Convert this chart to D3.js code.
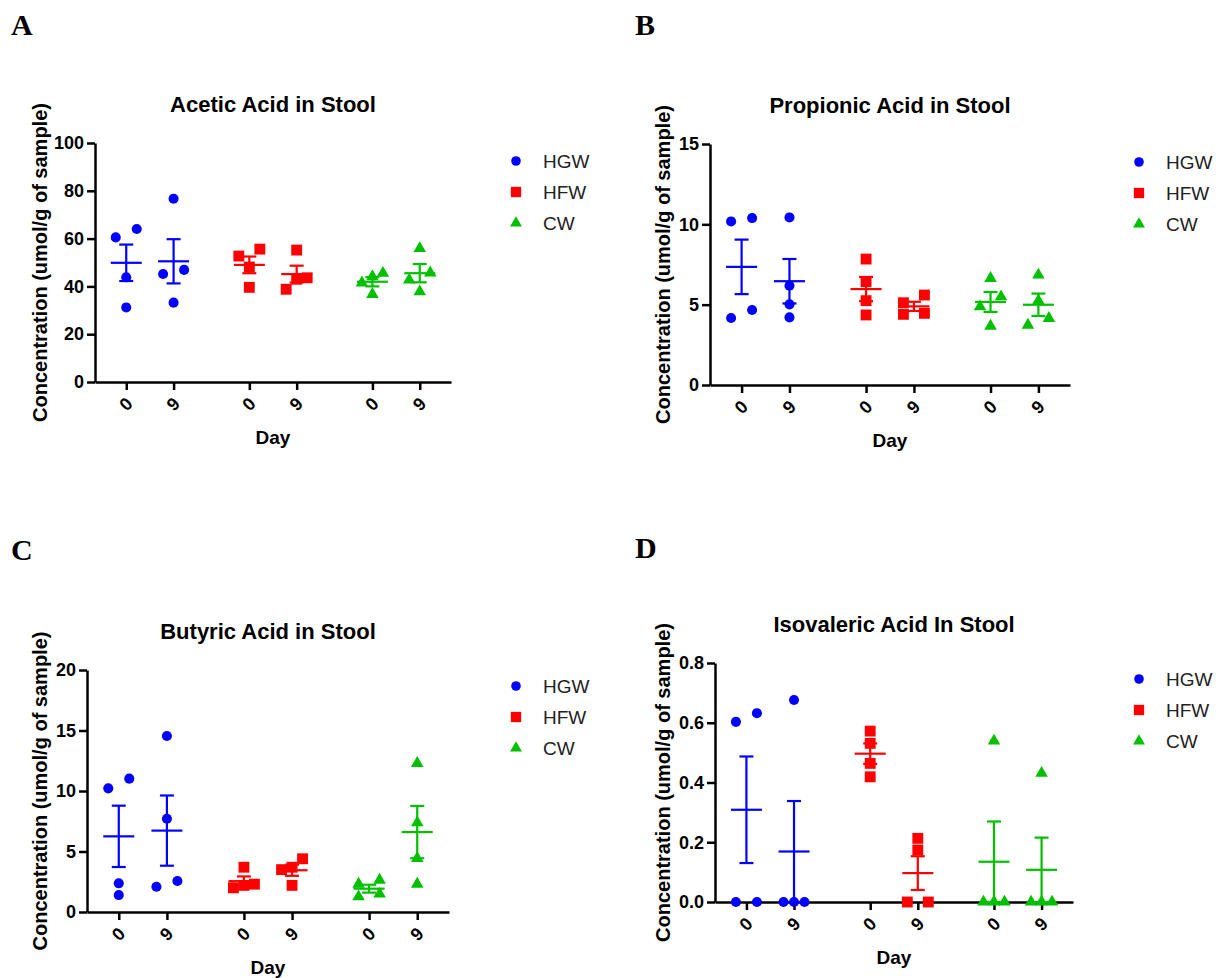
<!DOCTYPE html>
<html>
<head>
<meta charset="utf-8">
<script src="https://cdn.jsdelivr.net/npm/d3@7"></script>
<style>
  body { margin: 0; background: #fff; }
  text { font-family: "Liberation Sans", Arial, sans-serif; }
</style>
</head>
<body>
<script>
// groups and days
const groups = ["HGW", "HFW", "CW"];
const days = ["0", "9"];

// values (umol/g of sample), order: HGW d0, HGW d9, HFW d0, HFW d9, CW d0, CW d9
const acetic = [
  [60.5, 64.0, 43.8, 31.2], [76.7, 45.2, 46.9, 33.2],
  [52.7, 55.6, 48.1, 39.6], [55.2, 43.6, 43.0, 38.8],
  [45.5, 44.1, 41.5, 36.7], [55.9, 45.7, 42.7, 37.8]
];
const propionic = [
  [10.18, 10.39, 4.17, 4.67], [10.43, 6.18, 5.02, 4.21],
  [7.84, 6.43, 5.25, 4.36], [5.12, 5.6, 4.4, 4.46],
  [6.64, 5.5, 4.87, 3.67], [6.85, 5.25, 4.15, 3.73]
];
const butyric = [
  [10.22, 11.02, 2.37, 1.40], [14.55, 7.71, 2.09, 2.56],
  [3.7, 2.3, 2.0, 2.2], [4.4, 3.5, 3.7, 2.2],
  [2.31, 2.64, 1.27, 1.49], [12.29, 7.38, 4.44, 2.31]
];
const isovaleric = [
  [0.603, 0.632, 0, 0], [0.676, 0, 0, 0],
  [0.572, 0.531, 0.464, 0.419], [0.213, 0.174, 0, 0],
  [0.539, 0, 0, 0], [0.431, 0, 0, 0]
];

const colors = ["#0000ff", "#ff0000", "#00c000"];
const symbols = [d3.symbolCircle, d3.symbolSquare, d3.symbolTriangle];
const symSizes = [80, 118, 68];

const svg = d3.select("body")
  .append("svg")
  .attr("width", 1217)
  .attr("height", 978);

// panels layout
const panels = [
  { letter: "A", lx: 11, ly: 35, title: "Acetic Acid in Stool", data: acetic,
    left: 95, top: 143, bottom: 382, width: 356, yMax: 100, ticks: [0, 20, 40, 60, 80, 100], fmt: d3.format("d"),
    labX: 47, legX: 516, legY: 161 },
  { letter: "B", lx: 635, ly: 35, title: "Propionic Acid in Stool", data: propionic,
    left: 710, top: 144, bottom: 385, width: 360, yMax: 15, ticks: [0, 5, 10, 15], fmt: d3.format("d"),
    labX: 670, legX: 1139, legY: 162 },
  { letter: "C", lx: 11, ly: 560, title: "Butyric Acid in Stool", data: butyric,
    left: 87, top: 670, bottom: 912, width: 362, yMax: 20, ticks: [0, 5, 10, 15, 20], fmt: d3.format("d"),
    labX: 47, legX: 516, legY: 686 },
  { letter: "D", lx: 635, ly: 558, title: "Isovaleric Acid In Stool", data: isovaleric,
    left: 715, top: 663, bottom: 902, width: 358, yMax: 0.8, ticks: [0, 0.2, 0.4, 0.6, 0.8], fmt: d3.format(".1f"),
    labX: 670, legX: 1139, legY: 679 }
];

// column scatter like prism: points closer than a marker get spread sideways
function spread(vals, y) {
  const idx = vals.map((v, i) => i).sort((a, b) => vals[a] - vals[b]);
  const out = new Array(vals.length).fill(0);
  let cluster = [idx[0]];
  const flush = () => {
    const n = cluster.length;
    let pat = [0];
    if (n == 2) pat = [-1, 1];
    if (n == 3) pat = [-1, 0, 1];
    if (n >= 4) pat = [-1, 1, -1, 1];
    cluster.forEach((k, j) => out[k] = pat[j] * 10.5);
  };
  for (let i = 1; i < idx.length; i++) {
    if (Math.abs(y(vals[idx[i]]) - y(vals[idx[i - 1]])) <= 10.4) cluster.push(idx[i]);
    else { flush(); cluster = [idx[i]]; }
  }
  flush();
  return out;
}

panels.forEach(p => {
  const h = p.bottom - p.top;
  const g = svg.append("g").attr("transform", `translate(${p.left},${p.top})`);

  const pos = [];
  groups.forEach((grp, gi) => days.forEach((d, di) => pos.push(gi * 2.6 + di)));

  const x = d3.scaleLinear().domain([-0.66, 6.86]).range([0, p.width]);
  const y = d3.scaleLinear().domain([0, p.yMax]).range([h, 0]);

  // panel letter
  svg.append("text")
    .attr("x", p.lx).attr("y", p.ly)
    .style("font-family", "'Liberation Serif', 'Times New Roman', serif")
    .style("font-weight", "bold")
    .style("font-size", "30px")
    .text(p.letter);

  // title
  g.append("text")
    .attr("x", p.width / 2).attr("y", -31)
    .attr("text-anchor", "middle")
    .style("font-weight", "bold").style("font-size", "22px")
    .text(p.title);

  // axes
  const yAxis = g.append("g")
    .call(d3.axisLeft(y).tickValues(p.ticks).tickFormat(p.fmt).tickSize(8).tickSizeOuter(0).tickPadding(3));
  const xAxis = g.append("g")
    .attr("transform", `translate(0,${h})`)
    .call(d3.axisBottom(x).tickValues(pos).tickFormat((d, i) => days[i % 2]).tickSize(8).tickSizeOuter(0));

  [yAxis, xAxis].forEach(a => {
    a.select(".domain").attr("stroke", "#000").attr("stroke-width", 2.5);
    a.selectAll(".tick line").attr("stroke", "#000").attr("stroke-width", 2.5);
    a.selectAll("text")
      .attr("fill", "#000")
      .style("font-family", "'Liberation Sans', Arial, sans-serif")
      .style("font-weight", "bold")
      .style("font-size", "18px");
  });
  xAxis.selectAll(".tick text")
    .attr("y", 0).attr("dy", "0.35em")
    .attr("text-anchor", "middle")
    .attr("transform", "translate(-1,22) rotate(-45)");

  // axis titles
  g.append("text")
    .attr("transform", `translate(${p.labX - p.left},${h / 2}) rotate(-90)`)
    .attr("text-anchor", "middle")
    .style("font-weight", "bold").style("font-size", "20px")
    .text("Concentration (umol/g of sample)");

  g.append("text")
    .attr("x", p.width / 2).attr("y", h + 62)
    .attr("text-anchor", "middle")
    .style("font-weight", "bold").style("font-size", "19px")
    .text("Day");

  // points and mean +/- SEM
  p.data.forEach((vals, k) => {
    const gi = Math.floor(k / 2);
    const cx = x(pos[k]);
    const off = spread(vals, y);
    const sym = d3.symbol().type(symbols[gi]).size(symSizes[gi]);

    g.selectAll(null)
      .data(vals)
      .enter()
      .append("path")
      .attr("d", sym)
      .attr("transform", (v, i) => `translate(${cx + off[i]},${y(v)})`)
      .attr("fill", colors[gi]);

    const m = d3.mean(vals);
    const sem = d3.deviation(vals) / Math.sqrt(vals.length);
    const lines = [
      [cx, y(m - sem), cx, y(m + sem)],
      [cx - 7, y(m + sem), cx + 7, y(m + sem)],
      [cx - 7, y(m - sem), cx + 7, y(m - sem)],
      [cx - 15.5, y(m), cx + 15.5, y(m)]
    ];
    g.selectAll(null)
      .data(lines)
      .enter()
      .append("line")
      .attr("x1", d => d[0]).attr("y1", d => d[1])
      .attr("x2", d => d[2]).attr("y2", d => d[3])
      .attr("stroke", colors[gi])
      .attr("stroke-width", 2.2);
  });

  // legend
  groups.forEach((grp, gi) => {
    const ly = p.legY + gi * 31;
    svg.append("path")
      .attr("d", d3.symbol().type(symbols[gi]).size(symSizes[gi] * 0.9))
      .attr("transform", `translate(${p.legX},${ly})`)
      .attr("fill", colors[gi]);
    svg.append("text")
      .attr("x", p.legX + 27).attr("y", ly)
      .attr("dy", "0.36em")
      .style("font-size", "19px")
      .attr("fill", "#222")
      .text(grp);
  });
});
</script>
</body>
</html>
